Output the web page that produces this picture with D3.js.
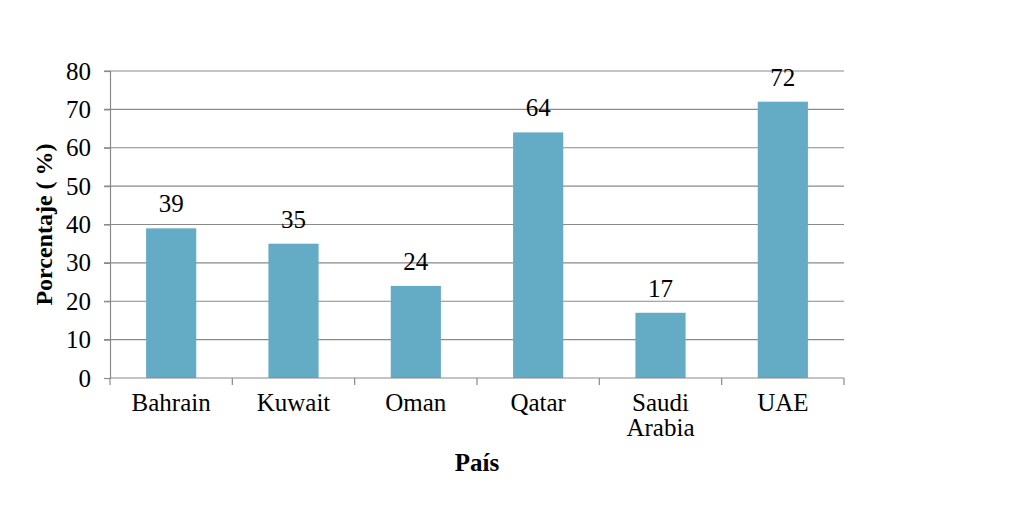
<!DOCTYPE html>
<html><head><meta charset="utf-8">
<script src="https://cdn.jsdelivr.net/npm/d3@7"></script>
<style>body{margin:0;background:#fff}svg{display:block}</style>
</head><body>
<script>
const categories = ["Bahrain","Kuwait","Oman","Qatar","Saudi Arabia","UAE"];
const values = [39,35,24,64,17,72];
const yTicks = [0,10,20,30,40,50,60,70,80];
const yTitle = "Porcentaje ( %)";
const xTitle = "País";

const W=1024,H=508;
const m={left:110,right:180,top:71,bottom:130};
const svg=d3.select("body").append("svg").attr("width",W).attr("height",H);
const x=d3.scaleBand().domain(categories).range([m.left,W-m.right]).paddingInner(0.59).paddingOuter(0.295);
const xb=d3.scaleBand().domain(categories).range([m.left,W-m.right]);
const y=d3.scaleLinear().domain([0,80]).range([H-m.bottom,m.top]);
const font="'Liberation Serif','Times New Roman',serif";
const grid="#8a8a8a";

// gridlines
svg.append("g").selectAll("line").data(yTicks.filter(d=>d>0)).join("line")
 .attr("x1",m.left-6).attr("x2",W-m.right).attr("y1",d=>y(d)).attr("y2",d=>y(d))
 .attr("stroke",grid).attr("stroke-width",1.2);

// y axis
const ya=svg.append("g").attr("transform",`translate(${m.left},0)`)
 .call(d3.axisLeft(y).tickValues(yTicks).tickSize(6).tickPadding(13));
ya.attr("font-family",null);
ya.select(".domain").attr("stroke",grid).attr("stroke-width",1.2);
ya.selectAll(".tick line").attr("stroke",grid).attr("stroke-width",1.2);
ya.selectAll("text").attr("font-family",font).attr("font-size",25).attr("fill","#000");

// bars
svg.append("g").selectAll("rect").data(values).join("rect")
 .attr("x",(d,i)=>x(categories[i])).attr("width",x.bandwidth())
 .attr("y",d=>y(d)).attr("height",d=>y(0)-y(d)).attr("fill","#64abc5");

// value labels
svg.append("g").selectAll("text").data(values).join("text")
 .attr("x",(d,i)=>x(categories[i])+x.bandwidth()/2).attr("y",d=>y(d)-16)
 .attr("text-anchor","middle").attr("font-family",font).attr("font-size",25).text(d=>d);

// x axis
const xa=svg.append("g").attr("transform",`translate(0,${y(0)})`);
xa.append("line").attr("x1",m.left).attr("x2",W-m.right).attr("stroke",grid).attr("stroke-width",1.2);
const bounds=categories.map(c=>xb(c)).concat([W-m.right]);
xa.selectAll("line.t").data(bounds).join("line").attr("class","t")
 .attr("x1",d=>d).attr("x2",d=>d).attr("y1",0).attr("y2",7).attr("stroke",grid).attr("stroke-width",1.2);
xa.selectAll("g.cat").data(categories).join("g").attr("class","cat").each(function(d){
  const g=d3.select(this);
  d.split(" ").forEach((p,i)=>g.append("text")
    .attr("x",xb(d)+xb.bandwidth()/2).attr("y",33+i*25)
    .attr("text-anchor","middle").attr("font-family",font).attr("font-size",25).text(p));
});

// titles
svg.append("text").attr("x",(m.left+W-m.right)/2).attr("y",471).attr("text-anchor","middle")
 .attr("font-family",font).attr("font-size",25).attr("font-weight","bold").text(xTitle);
svg.append("text").attr("transform",`translate(52,${(y(0)+y(80))/2}) rotate(-90)`).attr("text-anchor","middle")
 .attr("font-family",font).attr("font-size",24).attr("font-weight","bold").text(yTitle);
</script>
</body></html>
